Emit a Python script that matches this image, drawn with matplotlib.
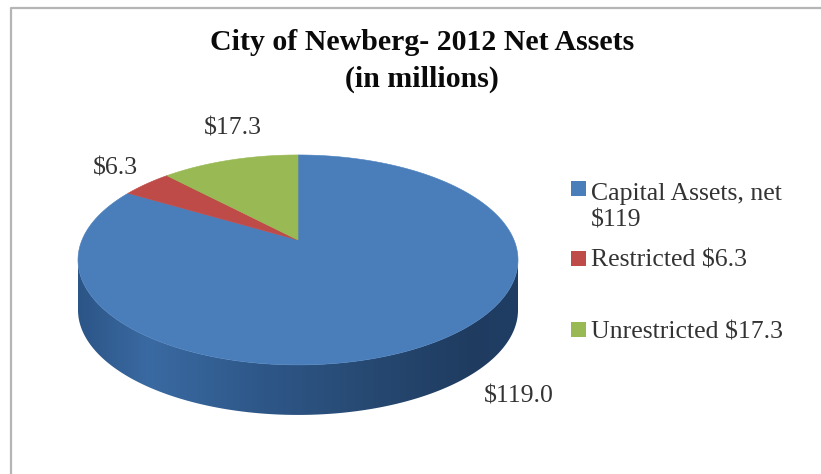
import numpy as np
import matplotlib
matplotlib.use("Agg")
import matplotlib.pyplot as plt
from matplotlib.patches import Polygon, Rectangle
from matplotlib.colors import LinearSegmentedColormap

categories = ["Capital Assets, net\n$119", "Restricted $6.3", "Unrestricted $17.3"]
values = [119.0, 6.3, 17.3]
value_labels = ["$119.0", "$6.3", "$17.3"]
colors = ["#4a7ebb", "#be4b48", "#98b954"]

plt.rcParams["font.family"] = ["Liberation Serif", "DejaVu Serif"]

W, H = 821, 474
fig = plt.figure(figsize=(W / 100, H / 100), dpi=100, facecolor="white")
ax = fig.add_axes([0, 0, 1, 1])
ax.set_xlim(0, W)
ax.set_ylim(H, 0)
ax.axis("off")

# Chart frame
ax.plot([11, 11, W], [H + 2, 8, 8], color="#b5b5b5", lw=1.6, solid_capstyle="butt")

# Projective view of the pie disc
CX, CY = 298, 240
A, B, C = 101.2, 0.19, 216
DEPTH = 50


def project(x, y):
    d = 1 + B * y
    return CX + C * x / d, CY - A * y / d


def rim(start, end, n=240):
    """Angles are clockwise from 12 o'clock, in radians."""
    t = np.linspace(start, end, n)
    return project(np.sin(t), np.cos(t))


# Side wall with a horizontal gradient
rx, ry = rim(0, 2 * np.pi, 720)
i_l, i_r = np.argmin(rx), np.argmax(rx)
t_all = np.linspace(0, 2 * np.pi, 720)
lower = np.linspace(t_all[i_r], t_all[i_l], 300)
lx, ly = project(np.sin(lower), np.cos(lower))
side = np.column_stack([
    np.r_[lx, lx[::-1]],
    np.r_[ly, ly[::-1] + DEPTH],
])
side_cmap = LinearSegmentedColormap.from_list(
    "side",
    [(0.0, "#2c5587"), (0.16, "#3a6aa2"), (0.42, "#2e5788"),
     (0.68, "#264870"), (0.9, "#1f3b60"), (1.0, "#203e64")],
)
grad = np.linspace(0, 1, 256).reshape(1, -1)
im = ax.imshow(grad, cmap=side_cmap, aspect="auto",
               extent=[lx.min(), lx.max(), ly.max() + DEPTH, ly.min()], zorder=1)
ax.set_xlim(0, W)
ax.set_ylim(H, 0)
clip = Polygon(side, closed=True, transform=ax.transData, fc="none", ec="none")
ax.add_patch(clip)
im.set_clip_path(clip)

# Top slices, clockwise from 12 o'clock
fractions = np.cumsum([0] + values) / np.sum(values) * 2 * np.pi
for a0, a1, col in zip(fractions[:-1], fractions[1:], colors):
    px, py = rim(a0, a1)
    pts = np.column_stack([np.r_[CX, px], np.r_[CY, py]])
    ax.add_patch(Polygon(pts, closed=True, fc=col, ec=col, lw=0.4, zorder=2))

# Title
ax.text(422, 50, "City of Newberg- 2012 Net Assets", ha="center", va="baseline",
        fontsize=21.5, fontweight="bold", color="#0a0a0a")
ax.text(422, 87, "(in millions)", ha="center", va="baseline",
        fontsize=21.5, fontweight="bold", color="#0a0a0a")

# Value labels
label_pos = [(519, 403), (115, 175), (233, 134)]
for txt, (x, y) in zip(value_labels, label_pos):
    ax.text(x, y, txt, ha="center", va="baseline", fontsize=18.5, color="#333333")

# Legend
legend_y = [188, 258.5, 329.5]
text_y = [226, 267, 338]
for cat, col, sy, ty in zip(categories, colors, legend_y, text_y):
    ax.add_patch(Rectangle((571, sy - 7.5), 15, 15, fc=col, ec="none"))
    ax.text(591, ty, cat, ha="left", va="baseline", fontsize=18.5, color="#333333",
            linespacing=1.25)

fig.savefig("out.png", dpi=100, facecolor="white")
